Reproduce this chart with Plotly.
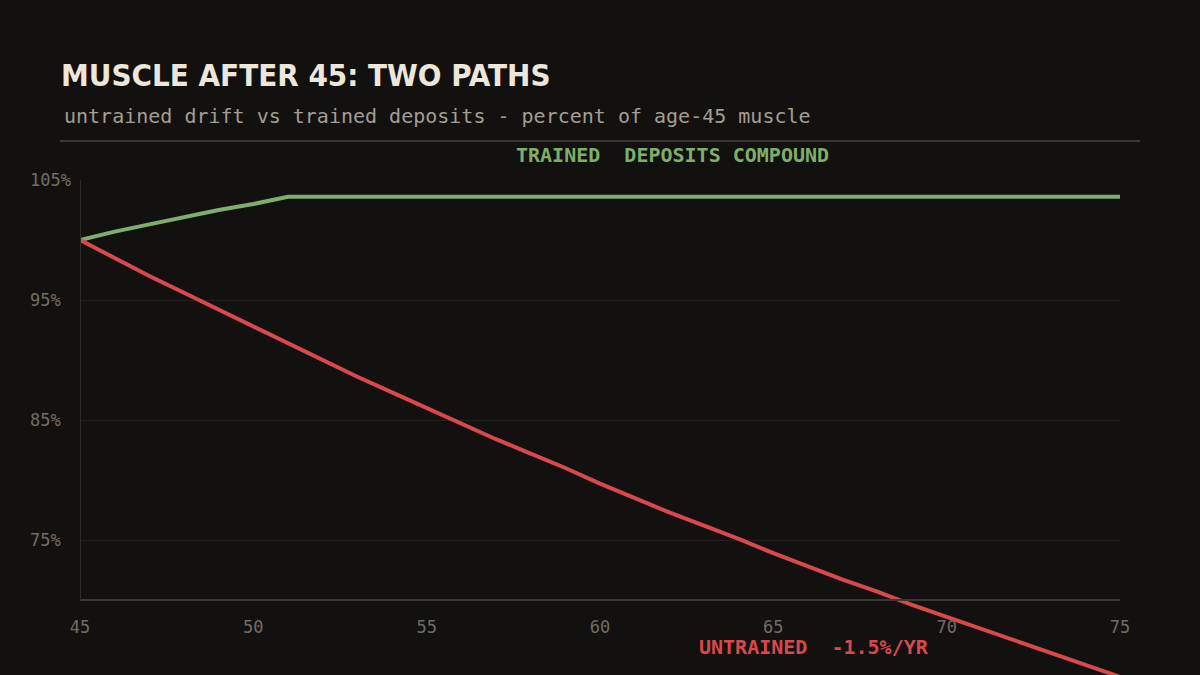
import plotly.graph_objects as go

# age in years, muscle as percent of age-45 level
ages = list(range(45, 76))

untrained = [100.0, 98.5, 97.0, 95.6, 94.2, 92.8, 91.4, 90.0, 88.6, 87.3,
             86.0, 84.7, 83.4, 82.2, 81.0, 79.7, 78.5, 77.3, 76.2, 75.1,
             73.9, 72.8, 71.7, 70.7, 69.6, 68.6, 67.6, 66.6, 65.6, 64.6, 63.6]

trained = [100.0, 100.7, 101.3, 101.9, 102.5, 103.0, 103.6, 103.6, 103.6, 103.6,
           103.6, 103.6, 103.6, 103.6, 103.6, 103.6, 103.6, 103.6, 103.6, 103.6,
           103.6, 103.6, 103.6, 103.6, 103.6, 103.6, 103.6, 103.6, 103.6, 103.6, 103.6]

y_ticks = [75, 85, 95, 105]
# padded with no-break spaces so the labels line up on the left
y_labels = ["75%\u00a0", "85%\u00a0", "95%\u00a0", "105%"]
x_ticks = [45, 50, 55, 60, 65, 70, 75]

BG = "#121110"
GREEN = "#7fae6a"
RED = "#d9484a"
MONO = "DejaVu Sans Mono"
CONDENSED = "DejaVu Sans Condensed, Liberation Sans Narrow, sans-serif"

fig = go.Figure()

# TRAINED
fig.add_trace(
    go.Scatter(
        x=ages,
        y=trained,
        mode="lines",
        line=dict(color=GREEN, width=4),
        name="Trained"
    )
)

# UNTRAINED
fig.add_trace(
    go.Scatter(
        x=ages,
        y=untrained,
        mode="lines",
        line=dict(color=RED, width=4),
        name="Untrained"
    )
)


def py(pixel):
    # pixel row -> paper y (plot area runs from 180 to 675)
    return (675 - pixel) / 495


def px(pixel):
    return (pixel - 80) / 1040


fig.update_layout(
    width=1200,
    height=675,
    margin=dict(l=80, r=80, t=180, b=0),
    paper_bgcolor=BG,
    plot_bgcolor=BG,
    showlegend=False,
    hovermode=False,
    xaxis=dict(
        range=[45, 75],
        tickvals=x_ticks,
        showgrid=False,
        zeroline=False,
        showline=True,
        linecolor="#3b392f",
        linewidth=2,
        anchor="free",
        position=75 / 495,
        ticks="",
        ticklabelstandoff=12,
        tickfont=dict(family=MONO, size=17, color="#716d64"),
    ),
    yaxis=dict(
        range=[63.75, 105],
        tickvals=y_ticks,
        ticktext=y_labels,
        showgrid=True,
        gridcolor="#22211d",
        gridwidth=1,
        zeroline=False,
        showline=False,
        ticks="",
        ticklabelstandoff=8,
        tickfont=dict(family=MONO, size=17, color="#716d64"),
    ),
    shapes=[
        # y axis line
        dict(type="line", xref="x", yref="y", x0=45, x1=45, y0=70, y1=105,
             line=dict(color="#2e2c26", width=2)),
        # rule under subtitle
        dict(type="line", xref="paper", yref="paper", x0=px(60), x1=px(1140),
             y0=py(141), y1=py(141), line=dict(color="#3a3832", width=2)),
    ],
    annotations=[
        dict(text="<b>MUSCLE AFTER 45: TWO PATHS</b>", xref="paper", yref="paper",
             x=px(59), y=py(75), xanchor="left", yanchor="middle", showarrow=False,
             font=dict(family=CONDENSED, size=31, color="#ede6da")),
        dict(text="untrained drift vs trained deposits - percent of age-45 muscle",
             xref="paper", yref="paper", x=px(62), y=py(116), xanchor="left",
             yanchor="middle", showarrow=False,
             font=dict(family=MONO, size=20, color="#a39e94")),
        dict(text="<b>TRAINED  DEPOSITS COMPOUND</b>", xref="x", yref="paper",
             x=62.1, y=py(155), xanchor="center", yanchor="middle", showarrow=False,
             font=dict(family=MONO, size=20, color=GREEN)),
        dict(text="<b>UNTRAINED  -1.5%/YR</b>", xref="x", yref="paper",
             x=66.17, y=py(647), xanchor="center", yanchor="middle", showarrow=False,
             font=dict(family=MONO, size=20, color=RED)),
    ],
)

fig.write_html(
    "out.html",
    config={"displayModeBar": False},
    post_script="document.body.style.margin='0';"
)
